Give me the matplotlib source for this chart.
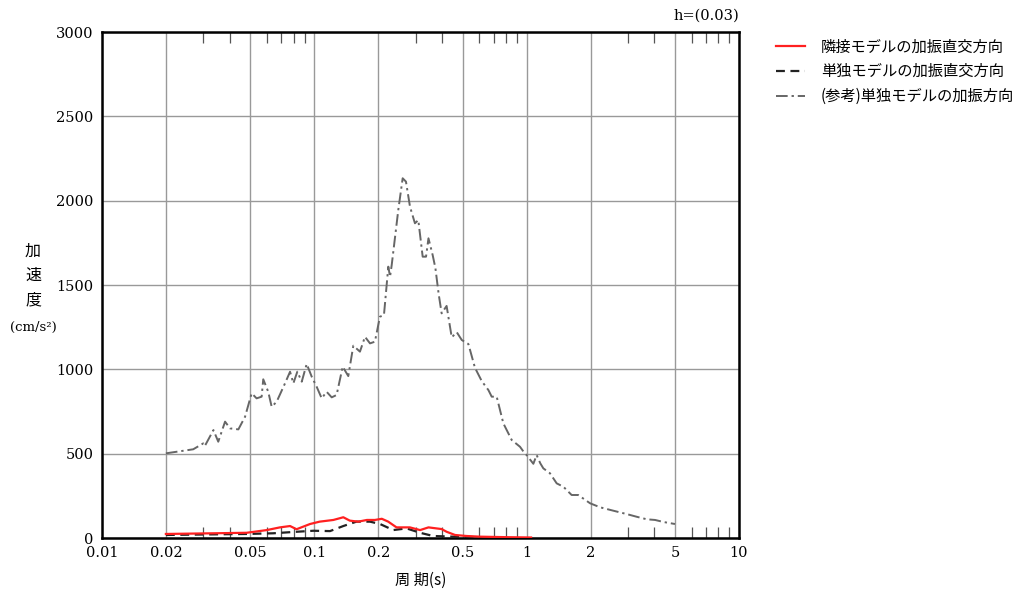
import numpy as np
import matplotlib
matplotlib.use('Agg')
import matplotlib.pyplot as plt
from matplotlib.ticker import FixedLocator, NullFormatter

plt.rcParams['font.family'] = ['DejaVu Serif', 'Noto Sans CJK JP']
JP = ['Noto Sans CJK JP', 'DejaVu Sans']

# period (s) / acceleration (cm/s2)
ref_T = [0.020, 0.0269, 0.030, 0.0305, 0.0335, 0.0353, 0.0380, 0.0401, 0.0439, 0.0472,
         0.0507, 0.0535, 0.0565, 0.0575, 0.0607, 0.0630, 0.0665, 0.0728, 0.0769, 0.0797,
         0.0832, 0.0873, 0.0921, 0.0973, 0.1026, 0.1084, 0.1143, 0.1208, 0.1274, 0.1361,
         0.1446, 0.1527, 0.1641, 0.1733, 0.183, 0.193, 0.2038, 0.2129, 0.2232, 0.2274,
         0.2316, 0.2487, 0.2608, 0.2703, 0.2824, 0.2979, 0.309, 0.324, 0.336, 0.345,
         0.361, 0.372, 0.385, 0.398, 0.420, 0.444, 0.469, 0.495, 0.532, 0.571,
         0.615, 0.661, 0.685, 0.723, 0.777, 0.851, 0.931, 0.98, 1.0, 1.076,
         1.115, 1.16, 1.199, 1.288, 1.386, 1.49, 1.63, 1.75, 1.99, 2.22,
         2.56, 2.96, 3.30, 3.68, 4.03, 4.41, 5.0]
ref_A = [502, 526, 561, 545, 640, 571, 690, 650, 644, 719,
         858, 828, 838, 941, 867, 778, 808, 917, 986, 917,
         986, 927, 1032, 956, 897, 828, 867, 834, 848, 1016,
         960, 1140, 1105, 1193, 1154, 1164, 1312, 1322, 1609, 1549,
         1619, 1945, 2133, 2113, 1964, 1866, 1885, 1668, 1668, 1777,
         1678, 1600, 1450, 1332, 1376, 1190, 1220, 1174, 1150, 1010,
         930, 877, 838, 838, 680, 581, 541, 502, 492, 440,
         492, 443, 413, 384, 324, 304, 255, 255, 206, 182,
         162, 142, 126, 111, 107, 95, 83]

adj_T = [0.020, 0.0335, 0.048, 0.0597, 0.0689, 0.0769, 0.0825, 0.0955, 0.106, 0.123,
         0.137, 0.147, 0.161, 0.177, 0.193, 0.208, 0.223, 0.244, 0.282, 0.315,
         0.345, 0.398, 0.420, 0.460, 0.52, 0.6, 0.8, 1.05]
adj_A = [24, 28, 31, 47, 63, 71, 52, 83, 97, 107,
         123, 103, 97, 107, 107, 114, 97, 63, 63, 47,
         63, 53, 37, 18, 12, 8, 5, 3]

single_T = [0.020, 0.048, 0.064, 0.0825, 0.099, 0.1186, 0.137, 0.158, 0.183, 0.204,
            0.2355, 0.272, 0.315, 0.363, 0.45, 0.55, 0.62]
single_A = [18, 24, 28, 37, 43, 41, 71, 97, 97, 83,
            47, 57, 31, 12, 8, 6, 3]

labels = ['隣接モデルの加振直交方向', '単独モデルの加振直交方向', '(参考)単独モデルの加振方向']

fig = plt.figure(figsize=(10.32, 5.92), dpi=100)
ax = fig.add_axes([0.0988, 0.0912, 0.6172, 0.8547])

ax.plot(adj_T, adj_A, color='#ff2020', lw=1.6, label=labels[0], zorder=4)
ax.plot(single_T, single_A, color='#222222', lw=1.6, ls=(0, (4, 2.5)), label=labels[1], zorder=3)
ax.plot(ref_T, ref_A, color='#666666', lw=1.4, ls=(0, (6, 2, 1.2, 2)), label=labels[2], zorder=3)

ax.set_xscale('log')
ax.set_xlim(0.01, 10)
ax.set_ylim(0, 3000)

major = [0.01, 0.02, 0.05, 0.1, 0.2, 0.5, 1, 2, 5, 10]
ax.xaxis.set_major_locator(FixedLocator(major))
ax.set_xticklabels(['0.01', '0.02', '0.05', '0.1', '0.2', '0.5', '1', '2', '5', '10'])
minor = [m * d for d in [0.01, 0.1, 1] for m in [3, 4, 6, 7, 8, 9]]
ax.xaxis.set_minor_locator(FixedLocator(minor))
ax.xaxis.set_minor_formatter(NullFormatter())
ax.set_yticks(np.arange(0, 3001, 500))

ax.tick_params(axis='x', which='major', length=0, labelsize=10.5, pad=6)
ax.tick_params(axis='x', which='minor', direction='in', length=8, width=0.9,
               color='#555555', top=True, bottom=True)
ax.tick_params(axis='y', length=0, labelsize=10.5, pad=6)

ax.grid(True, which='major', color='#999999', lw=1.0)
for s in ax.spines.values():
    s.set_linewidth(1.8)
    s.set_color('black')

ax.set_xlabel('周 期(s)', family=JP, fontsize=11, labelpad=8)

fig.text(0.032, 0.535, '加\n速\n度', family=JP, fontsize=11.5, ha='center', va='center',
         linespacing=1.55)
fig.text(0.032, 0.447, '(cm/s²)', fontsize=9.5, ha='center', va='center')
fig.text(0.716, 0.962, 'h=(0.03)', fontsize=10.5, ha='right', va='bottom')

fig.legend(loc='upper left', bbox_to_anchor=(0.739, 0.958), frameon=False,
           prop={'family': JP, 'size': 11}, handlelength=1.9, handletextpad=1.0,
           labelspacing=0.5)

fig.savefig('out.png', dpi=100)
